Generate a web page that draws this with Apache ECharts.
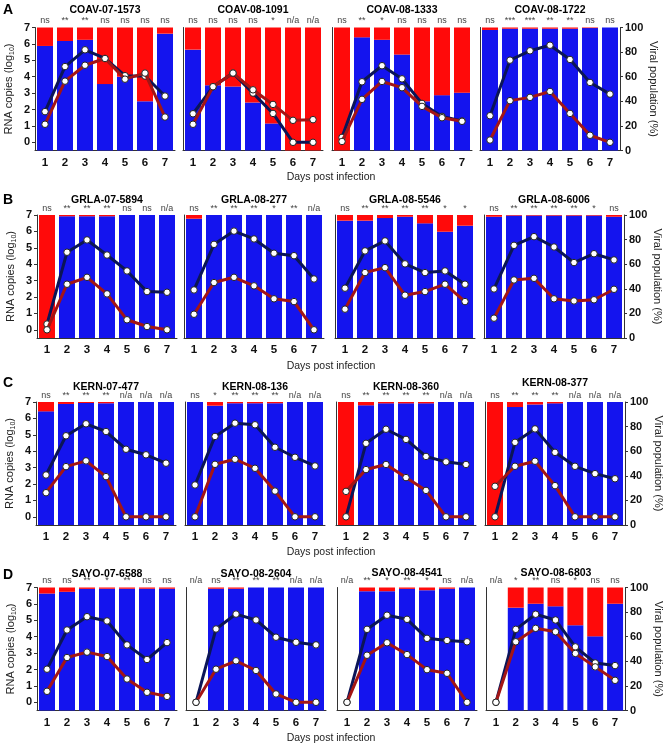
<!DOCTYPE html>
<html><head><meta charset="utf-8">
<script src="https://cdn.jsdelivr.net/npm/echarts@6/dist/echarts.min.js"></script>
<style>html,body{margin:0;padding:0;background:#fff}#c{width:665px;height:750px}</style>
</head><body><div id="c"></div>
<script>
// ---------- DATA ----------
const days = ['1','2','3','4','5','6','7'];
const logTicks = [0,1,2,3,4,5,6,7];
const pctTicks = [0,20,40,60,80,100];
const rowLetters = ['A','B','C','D'];

const titles = ['COAV-07-1573','COAV-08-1091','COAV-08-1333','COAV-08-1722',
                'GRLA-07-5894','GRLA-08-277','GRLA-08-5546','GRLA-08-6006',
                'KERN-07-477','KERN-08-136','KERN-08-360','KERN-08-377',
                'SAYO-07-6588','SAYO-08-2604','SAYO-08-4541','SAYO-08-6803'];

// blue share of viral population (%) ; navy & red lines = RNA copies (log10)
const blue_COAV_07_1573 = [85, 89, 90, 54, 60, 40, 95];
const navy_COAV_07_1573 = [1.87, 4.62, 5.64, 5.11, 4.06, 4.04, 2.82];
const red_COAV_07_1573  = [1.10, 3.73, 4.70, 5.11, 3.85, 4.22, 1.54];
const sig_COAV_07_1573  = ['ns','**','**','ns','ns','ns','ns'];

const blue_COAV_08_1091 = [82, 53, 52, 39, 22, 0, 0];
const navy_COAV_08_1091 = [1.74, 3.39, 4.22, 3.00, 1.76, 0, 0];
const red_COAV_08_1091  = [1.10, 3.39, 4.22, 3.20, 2.31, 1.34, 1.38];
const sig_COAV_08_1091  = ['ns','ns','ns','ns','*','n/a','n/a'];

const blue_COAV_08_1333 = [0, 92, 90, 78, 40, 45, 47];
const navy_COAV_08_1333 = [0.30, 3.69, 4.67, 3.87, 2.37, 1.58, 1.30];
const red_COAV_08_1333  = [0.05, 2.62, 3.71, 3.33, 2.19, 1.50, 1.28];
const sig_COAV_08_1333  = ['ns','**','*','ns','ns','ns','ns'];

const blue_COAV_08_1722 = [98, 99, 99, 99, 99, 99.5, 100];
const navy_COAV_08_1722 = [1.62, 5.01, 5.58, 5.92, 5.05, 3.65, 2.94];
const red_COAV_08_1722  = [0.14, 2.54, 2.74, 3.10, 1.76, 0.43, 0];
const sig_COAV_08_1722  = ['ns','***','***','**','**','ns','ns'];

const blue_GRLA_07_5894 = [0, 99, 99, 99, 100, 100, 100];
const navy_GRLA_07_5894 = [0.35, 4.73, 5.48, 4.56, 3.59, 2.33, 2.29];
const red_GRLA_07_5894  = [0, 2.78, 3.20, 2.19, 0.61, 0.20, 0];
const sig_GRLA_07_5894  = ['ns','**','**','**','ns','ns','n/a'];

const blue_GRLA_08_277 = [97, 100, 100, 100, 100, 100, 100];
const navy_GRLA_08_277 = [2.43, 5.21, 6.02, 5.54, 4.67, 4.52, 3.10];
const red_GRLA_08_277  = [0.95, 2.88, 3.20, 2.68, 1.89, 1.72, 0];
const sig_GRLA_08_277  = ['ns','**','**','**','*','**','n/a'];

const blue_GRLA_08_5546 = [95.4, 95.4, 97.5, 98.6, 93.2, 86.4, 91.3];
const navy_GRLA_08_5546 = [2.54, 4.81, 5.42, 4.02, 3.49, 3.59, 2.78];
const red_GRLA_08_5546  = [1.26, 3.49, 3.79, 2.11, 2.33, 2.78, 1.72];
const sig_GRLA_08_5546  = ['ns','**','**','**','**','*','*'];

const blue_GRLA_08_6006 = [98.6, 99.5, 99.5, 99.5, 99.5, 99.5, 98.6];
const navy_GRLA_08_6006 = [2.49, 5.15, 5.68, 5.05, 4.10, 4.64, 4.26];
const red_GRLA_08_6006  = [0.71, 3.04, 3.14, 1.89, 1.76, 1.83, 2.47];
const sig_GRLA_08_6006  = ['ns','**','**','**','**','*','ns'];

const blue_KERN_07_477 = [92.4, 98.4, 99.2, 99, 100, 100, 100];
const navy_KERN_07_477 = [2.55, 4.94, 5.67, 5.20, 4.12, 3.78, 3.27];
const red_KERN_07_477  = [1.47, 3.06, 3.41, 2.45, 0, 0, 0];
const sig_KERN_07_477  = ['ns','**','**','**','n/a','n/a','n/a'];

const blue_KERN_08_136 = [100, 97, 99, 99, 99, 100, 100];
const navy_KERN_08_136 = [1.94, 4.90, 5.71, 5.61, 4.24, 3.63, 3.10];
const red_KERN_08_136  = [0, 3.20, 3.51, 2.96, 1.57, 0, 0];
const sig_KERN_08_136  = ['ns','*','**','**','**','n/a','n/a'];

const blue_KERN_08_360 = [0, 97.3, 98.9, 98.9, 98.9, 100, 100];
const navy_KERN_08_360 = [0, 4.48, 5.34, 4.72, 3.68, 3.35, 3.19];
const red_KERN_08_360  = [1.55, 2.88, 3.19, 2.39, 1.61, 0, 0];
const sig_KERN_08_360  = ['ns','**','**','**','**','n/a','n/a'];

const blue_KERN_08_377 = [0, 95.9, 98, 98.9, 100, 100, 100];
const navy_KERN_08_377 = [0, 4.54, 5.36, 3.93, 3.08, 2.63, 2.32];
const red_KERN_08_377  = [1.86, 3.08, 3.39, 1.90, 0, 0, 0];
const sig_KERN_08_377  = ['ns','**','**','**','n/a','n/a','n/a'];

const blue_SAYO_07_6588 = [95.1, 96.5, 98.9, 99, 99, 99, 99];
const navy_SAYO_07_6588 = [2.02, 4.41, 5.22, 4.96, 3.50, 2.61, 3.64];
const red_SAYO_07_6588  = [0.67, 2.73, 3.06, 2.79, 1.42, 0.61, 0.36];
const sig_SAYO_07_6588  = ['ns','ns','**','*','**','ns','ns'];

const blue_SAYO_08_2604 = [null, 99, 99, 100, 100, 100, 100];
const navy_SAYO_08_2604 = [0, 4.47, 5.38, 5.02, 3.97, 3.66, 3.50];
const red_SAYO_08_2604  = [0, 2.02, 2.53, 1.94, 0.51, 0, 0];
const sig_SAYO_08_2604  = ['n/a','ns','**','**','**','n/a','n/a'];

const blue_SAYO_08_4541 = [null, 97, 97, 98.9, 97.8, 99, 100];
const navy_SAYO_08_4541 = [0, 4.45, 5.31, 5.06, 3.90, 3.77, 3.69];
const red_SAYO_08_4541  = [0, 2.87, 3.63, 2.91, 1.99, 1.77, 0];
const sig_SAYO_08_4541  = ['n/a','**','*','**','*','ns','n/a'];

const blue_SAYO_08_6803 = [null, 83.6, 86.8, 84.7, 69.3, 60.3, 86.8];
const navy_SAYO_08_6803 = [0, 4.45, 5.37, 5.02, 3.38, 2.40, 2.24];
const red_SAYO_08_6803  = [0, 3.69, 4.51, 4.30, 2.98, 2.16, 1.34];
const sig_SAYO_08_6803  = ['n/a','*','**','ns','*','ns','ns'];

const blueSets = [blue_COAV_07_1573, blue_COAV_08_1091, blue_COAV_08_1333, blue_COAV_08_1722,
  blue_GRLA_07_5894, blue_GRLA_08_277, blue_GRLA_08_5546, blue_GRLA_08_6006,
  blue_KERN_07_477, blue_KERN_08_136, blue_KERN_08_360, blue_KERN_08_377,
  blue_SAYO_07_6588, blue_SAYO_08_2604, blue_SAYO_08_4541, blue_SAYO_08_6803];
const navySets = [navy_COAV_07_1573, navy_COAV_08_1091, navy_COAV_08_1333, navy_COAV_08_1722,
  navy_GRLA_07_5894, navy_GRLA_08_277, navy_GRLA_08_5546, navy_GRLA_08_6006,
  navy_KERN_07_477, navy_KERN_08_136, navy_KERN_08_360, navy_KERN_08_377,
  navy_SAYO_07_6588, navy_SAYO_08_2604, navy_SAYO_08_4541, navy_SAYO_08_6803];
const redSets = [red_COAV_07_1573, red_COAV_08_1091, red_COAV_08_1333, red_COAV_08_1722,
  red_GRLA_07_5894, red_GRLA_08_277, red_GRLA_08_5546, red_GRLA_08_6006,
  red_KERN_07_477, red_KERN_08_136, red_KERN_08_360, red_KERN_08_377,
  red_SAYO_07_6588, red_SAYO_08_2604, red_SAYO_08_4541, red_SAYO_08_6803];
const sigSets = [sig_COAV_07_1573, sig_COAV_08_1091, sig_COAV_08_1333, sig_COAV_08_1722,
  sig_GRLA_07_5894, sig_GRLA_08_277, sig_GRLA_08_5546, sig_GRLA_08_6006,
  sig_KERN_07_477, sig_KERN_08_136, sig_KERN_08_360, sig_KERN_08_377,
  sig_SAYO_07_6588, sig_SAYO_08_2604, sig_SAYO_08_4541, sig_SAYO_08_6803];

// ---------- LAYOUT / STYLE ----------
const F = '"Liberation Sans", Arial, sans-serif';
const BLUE = '#1414EE', RED = '#FF0A0A', NAVY = '#0B1557', DRED = '#A31515';
const rowTops = [27.5, 215, 402, 587.5];
const rowLefts = [[35,183,332,480],[37,184,335,484],[36,185,336,485],[37,186,337,486]];
const titleYs = [[10,10,10,10],[200.5,200.5,200.5,200.5],[387,387,387,383],[574,574,573,573]];
const letterYs = [10, 200, 383, 575];
const daysYs = [177, 366.5, 552, 738];
const GW = 140, GH = 123;

const grids = [], xAxes = [], yAxes = [], series = [], graphics = [];
for (let i = 0; i < 16; i++) {
  const r = Math.floor(i / 4), c = i % 4;
  const left = rowLefts[r][c];
  grids.push({left: left, top: rowTops[r], width: GW, height: GH});
  xAxes.push({type:'category', gridIndex:i, data:days, position:'bottom',
    axisLine:{onZero:false, lineStyle:{color:'#333', width:1}},
    axisTick:{alignWithLabel:true, length:3, lineStyle:{color:'#333'}},
    axisLabel:{fontFamily:F, fontWeight:'bold', fontSize:11.5, color:'#111', margin:6}});
  xAxes.push({type:'category', gridIndex:i, data:sigSets[i], position:'top',
    axisLine:{show:false, onZero:false}, axisTick:{show:false},
    axisLabel:{fontFamily:F, fontSize:9, color:'#444', margin:2, interval:0}});
  const ly = {type:'value', gridIndex:i, position:'left', min:-0.5, max:7,
    splitLine:{show:false},
    axisLine:{show:true, onZero:false, lineStyle:{color:'#333', width:1}},
    axisTick:{show:c===0, length:3, customValues:logTicks, lineStyle:{color:'#333'}},
    axisLabel:{show:c===0, customValues:logTicks, fontFamily:F, fontWeight:'bold', fontSize:11, color:'#111', margin:5}};
  if (c === 0) {
    ly.name = '{a|RNA copies (log}{s|10}{a|)}';
    ly.nameLocation = 'middle'; ly.nameGap = 19; ly.nameRotate = 90;
    ly.nameTextStyle = {fontFamily:F, fontSize:11, color:'#222',
      rich:{a:{fontFamily:F, fontSize:11, color:'#222', lineHeight:14},
            s:{fontFamily:F, fontSize:7, color:'#222', lineHeight:14, verticalAlign:'bottom'}}};
  }
  yAxes.push(ly);
  const ry = {type:'value', gridIndex:i, position:'right', min:0, max:100, interval:20,
    splitLine:{show:false},
    axisLine:{show:c===3, onZero:false, lineStyle:{color:'#333', width:1}},
    axisTick:{show:c===3, length:3, lineStyle:{color:'#333'}},
    axisLabel:{show:c===3, fontFamily:F, fontWeight:'bold', fontSize:11, color:'#111', margin:5}};
  if (c === 3) {
    ry.name = 'Viral population (%)';
    ry.nameLocation = 'middle'; ry.nameGap = 28; ry.nameRotate = -90;
    ry.nameTextStyle = {fontFamily:F, fontSize:11, color:'#222'};
  }
  yAxes.push(ry);

  const blue = blueSets[i];
  const redPct = blue.map(v => v == null ? null : 100 - v);
  series.push({type:'bar', xAxisIndex:2*i, yAxisIndex:2*i+1, stack:'p'+i, barWidth:16,
    data:blue, itemStyle:{color:BLUE}, silent:true});
  series.push({type:'bar', xAxisIndex:2*i, yAxisIndex:2*i+1, stack:'p'+i, barWidth:16,
    data:redPct, itemStyle:{color:RED}, silent:true});
  const mk = {color:'#fff', borderColor:'#222', borderWidth:1};
  series.push({type:'line', xAxisIndex:2*i, yAxisIndex:2*i, data:navySets[i], z:3,
    symbol:'circle', symbolSize:6.5, lineStyle:{color:NAVY, width:3}, itemStyle:mk, silent:true});
  series.push({type:'line', xAxisIndex:2*i, yAxisIndex:2*i, data:redSets[i], z:4,
    symbol:'circle', symbolSize:6.5, lineStyle:{color:DRED, width:3}, itemStyle:mk, silent:true});

  graphics.push({type:'text', x:left + GW/2, y:titleYs[r][c], silent:true,
    style:{text:titles[i], font:'bold 10.5px ' + F, fill:'#000', textAlign:'center', textVerticalAlign:'middle', verticalAlign:'middle'}});
}
for (let r = 0; r < 4; r++) {
  graphics.push({type:'text', x:8, y:letterYs[r], silent:true,
    style:{text:rowLetters[r], font:'bold 14px ' + F, fill:'#000', textAlign:'center', textVerticalAlign:'middle', verticalAlign:'middle'}});
  graphics.push({type:'text', x:331, y:daysYs[r], silent:true,
    style:{text:'Days post infection', font:'10.5px ' + F, fill:'#222', textAlign:'center', textVerticalAlign:'middle', verticalAlign:'middle'}});
}

const chart = echarts.init(document.getElementById('c'), null, {renderer:'canvas'});
chart.setOption({
  animation:false,
  backgroundColor:'#fff',
  grid:grids, xAxis:xAxes, yAxis:yAxes, series:series, graphic:graphics
});
</script>
</body></html>
